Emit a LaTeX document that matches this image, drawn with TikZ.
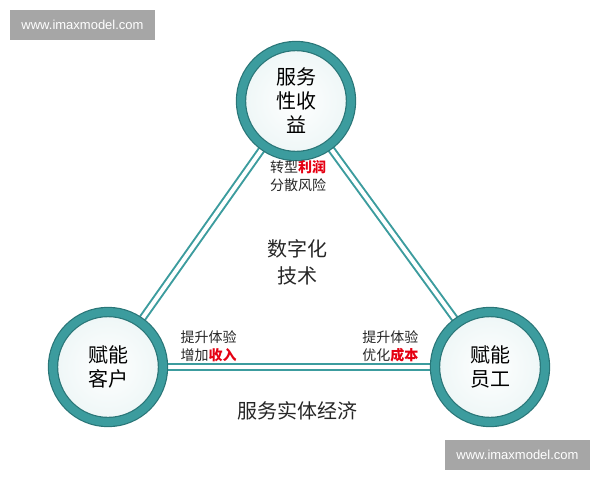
\documentclass[tikz,border=0pt]{standalone}
\usepackage{fontspec}
\setmainfont{Noto Sans CJK SC}
\newfontfamily\webfont{Liberation Sans}
\usetikzlibrary{backgrounds}
\definecolor{ringteal}{HTML}{3C9C9E}
\definecolor{ringdark}{HTML}{2A7678}
\definecolor{hot}{HTML}{E50012}
\definecolor{markgray}{HTML}{A6A6A6}

\begin{document}
\begin{tikzpicture}[x=1pt, y=-1pt,
  ring/.style={circle, minimum size=110pt, inner sep=0pt, draw=ringdark,
    line width=1.2pt, double=ringteal, double distance=8pt,
    inner color=white, outer color=ringteal!9, align=center,
    font=\fontsize{20}{24}\selectfont},
  link/.style={draw=ringteal, line width=2pt, double=white, double distance=4pt},
  note/.style={align=left, font=\fontsize{14}{18}\selectfont, text=black!85},
  big/.style={align=center, font=\fontsize{20}{27}\selectfont, text=black!85},
  webmark/.style={fill=markgray, text=white, minimum width=145pt, minimum height=30pt,
    inner sep=0pt, font=\webfont\fontsize{13}{15}\selectfont}]

  \useasboundingbox (0,0) rectangle (600,480);

  % --- the three rings ---------------------------------------------------------
  \node[ring] (srv)  at (296,101) {服务\\性收\\益};
  \node[ring] (cust) at (108,367) {赋能\\客户};
  \node[ring] (staff) at (490,367) {赋能\\员工};

  % --- double links behind the rings -------------------------------------------
  \begin{scope}[on background layer]
    \draw[link] (srv) -- (cust);
    \draw[link] (srv) -- (staff);
    \draw[link] (cust) -- (staff);
  \end{scope}

  % --- labels --------------------------------------------------------------------
  \node[note, align=center] (profit) at (298,176) {转型\textbf{\textcolor{hot}{利润}}\\分散风险};
  \node[note, anchor=west] (income) at (177,346) {提升体验\\增加\textbf{\textcolor{hot}{收入}}};
  \node[note, anchor=east] (cost) at (422,346) {提升体验\\优化\textbf{\textcolor{hot}{成本}}};
  \node[big] (tech) at (297,262) {数字化\\技术};
  \node[big] (econ) at (297,411) {服务实体经济};

  % --- watermarks ----------------------------------------------------------------
  \node[webmark] (wm1) at (82.5,25) {www.imaxmodel.com};
  \node[webmark] (wm2) at (517.5,455) {www.imaxmodel.com};

\end{tikzpicture}
\end{document}
